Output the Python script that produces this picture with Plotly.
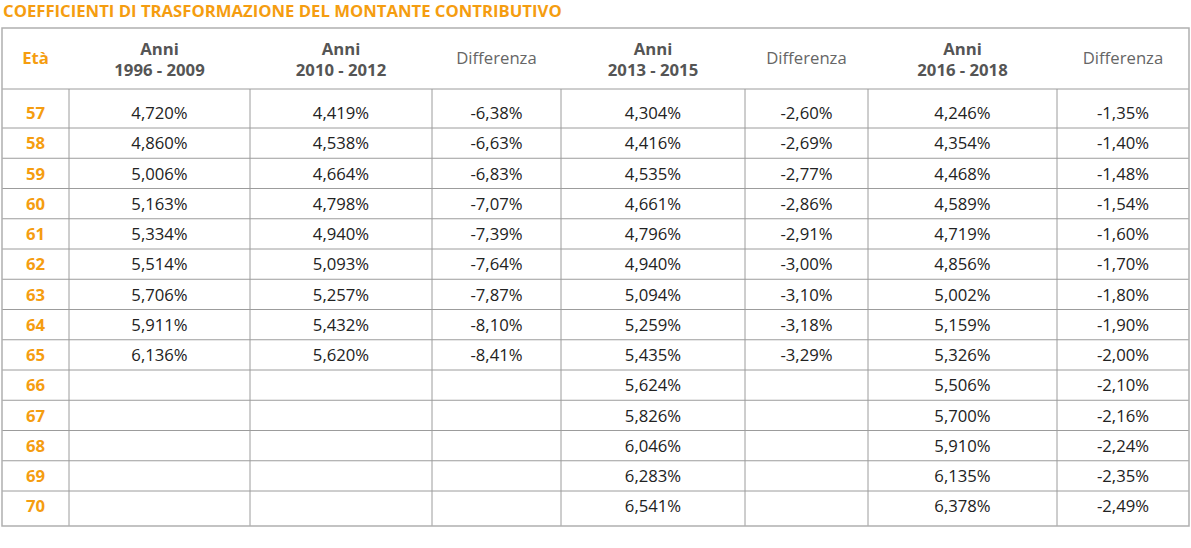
import plotly.graph_objects as go

# Dati della tabella
eta = [57, 58, 59, 60, 61, 62, 63, 64, 65, 66, 67, 68, 69, 70]
anni_1996_2009 = ["4,720%", "4,860%", "5,006%", "5,163%", "5,334%", "5,514%", "5,706%", "5,911%", "6,136%",
                  "", "", "", "", ""]
anni_2010_2012 = ["4,419%", "4,538%", "4,664%", "4,798%", "4,940%", "5,093%", "5,257%", "5,432%", "5,620%",
                  "", "", "", "", ""]
diff_2010 = ["-6,38%", "-6,63%", "-6,83%", "-7,07%", "-7,39%", "-7,64%", "-7,87%", "-8,10%", "-8,41%",
             "", "", "", "", ""]
anni_2013_2015 = ["4,304%", "4,416%", "4,535%", "4,661%", "4,796%", "4,940%", "5,094%", "5,259%", "5,435%",
                  "5,624%", "5,826%", "6,046%", "6,283%", "6,541%"]
diff_2013 = ["-2,60%", "-2,69%", "-2,77%", "-2,86%", "-2,91%", "-3,00%", "-3,10%", "-3,18%", "-3,29%",
             "", "", "", "", ""]
anni_2016_2018 = ["4,246%", "4,354%", "4,468%", "4,589%", "4,719%", "4,856%", "5,002%", "5,159%", "5,326%",
                  "5,506%", "5,700%", "5,910%", "6,135%", "6,378%"]
diff_2016 = ["-1,35%", "-1,40%", "-1,48%", "-1,54%", "-1,60%", "-1,70%", "-1,80%", "-1,90%", "-2,00%",
             "-2,10%", "-2,16%", "-2,24%", "-2,35%", "-2,49%"]

# intestazioni: etichette su una riga e periodi su due righe
intestazioni_singole = ["<b>Età</b>", "", "", "Differenza", "", "Differenza", "", "Differenza"]
intestazioni_anni = ["", "<b>Anni</b>", "<b>Anni</b>", "", "<b>Anni</b>", "", "<b>Anni</b>", ""]
intestazioni_periodi = ["", "<b>1996 - 2009</b>", "<b>2010 - 2012</b>", "", "<b>2013 - 2015</b>", "",
                        "<b>2016 - 2018</b>", ""]

ORANGE = "#F59D10"
GRID = "#9C9C9C"
FONT = "Open Sans"
SIZE = 16.7
W, H = 1191, 548

# geometria della tabella (pixel)
col_edges = [2, 69, 250, 432, 561, 745, 868, 1057, 1189]
top, header_bottom, bottom = 28, 89, 526
row_step = 30.25
first_text_y = 115
row_lines = [128 + row_step * k for k in range(13)]

centers = [(a + b) / 2 for a, b in zip(col_edges[:-1], col_edges[1:])]
row_y = [first_text_y + row_step * i for i in range(len(eta))]

colonne = [[f"<b>{e}</b>" for e in eta], anni_1996_2009, anni_2010_2012, diff_2010,
           anni_2013_2015, diff_2013, anni_2016_2018, diff_2016]
header_colors = [ORANGE, "#555555", "#555555", "#666666", "#555555", "#666666", "#555555", "#666666"]

fig = go.Figure()

# intestazione
for testi, y in [(intestazioni_singole, 60), (intestazioni_anni, 50.5), (intestazioni_periodi, 71.5)]:
    fig.add_trace(go.Scatter(
        x=centers, y=[y] * len(centers),
        text=testi, mode="text", textposition="middle center",
        textfont=dict(family=FONT, size=SIZE, color=header_colors),
        hoverinfo="skip", showlegend=False,
    ))

# celle
for i, valori in enumerate(colonne):
    fig.add_trace(go.Scatter(
        x=[centers[i]] * len(valori), y=row_y,
        text=valori, mode="text", textposition="middle center",
        textfont=dict(family=FONT, size=SIZE, color=ORANGE if i == 0 else "#222222"),
        hoverinfo="skip", showlegend=False,
    ))

# bordi
for x in col_edges[1:-1]:
    fig.add_shape(type="line", x0=x, x1=x, y0=header_bottom, y1=bottom,
                  line=dict(color=GRID, width=1))
for y in [header_bottom] + row_lines:
    fig.add_shape(type="line", x0=col_edges[0], x1=col_edges[-1], y0=y, y1=y,
                  line=dict(color=GRID, width=1))
fig.add_shape(type="rect", x0=col_edges[0], x1=col_edges[-1], y0=top, y1=bottom,
              line=dict(color="#B0B0B0", width=1.5))

fig.update_layout(
    width=W, height=H,
    margin=dict(l=0, r=0, t=0, b=0),
    paper_bgcolor="white", plot_bgcolor="white",
    xaxis=dict(range=[0, W], visible=False, fixedrange=True),
    yaxis=dict(range=[H, 0], visible=False, fixedrange=True),
    annotations=[dict(
        text="<b>COEFFICIENTI DI TRASFORMAZIONE DEL MONTANTE CONTRIBUTIVO</b>",
        x=1, y=10, xanchor="left", yanchor="middle", showarrow=False,
        font=dict(family=FONT, size=SIZE, color=ORANGE),
    )],
)

# la pagina non deve aggiungere il margine del body
fig.write_html("out.html", config={"displayModeBar": False},
               post_script="document.body.style.margin='0';document.body.style.overflow='hidden';")
